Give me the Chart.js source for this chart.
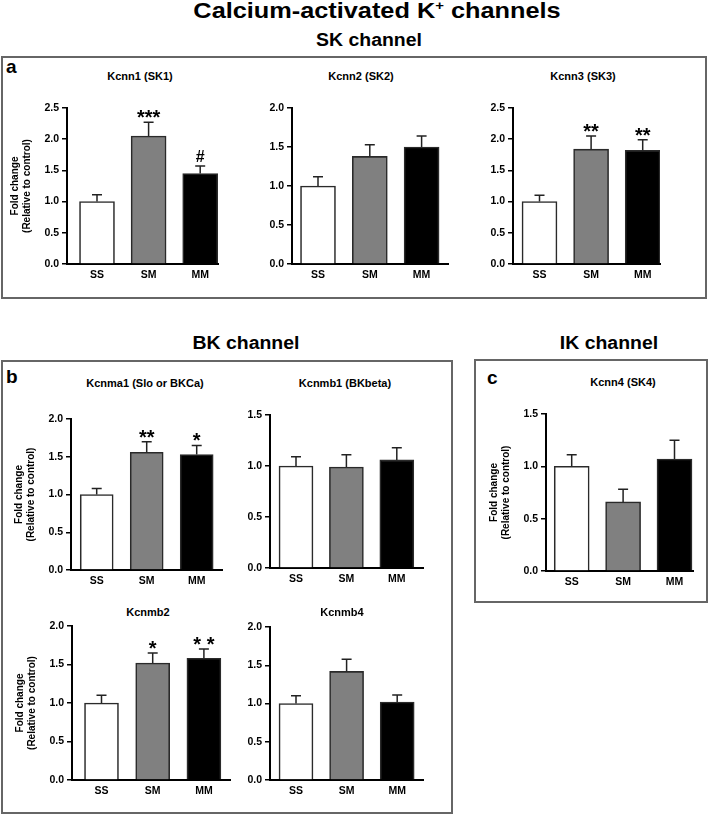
<!DOCTYPE html>
<html><head><meta charset="utf-8">
<script src="https://cdn.jsdelivr.net/npm/chart.js@4.4.1/dist/chart.umd.min.js"></script>
<style>
html,body{margin:0;padding:0;background:#fff;}
body{width:709px;height:815px;position:relative;overflow:hidden;font-family:'Liberation Sans',Arial,sans-serif;color:#000;}
.box{position:absolute;box-sizing:border-box;border:2px solid #666;}
.head{position:absolute;font-weight:bold;text-align:center;white-space:nowrap;line-height:1;transform-origin:50% 50%;}
.ptitle{position:absolute;font-weight:bold;font-size:11px;line-height:11px;text-align:center;width:200px;white-space:nowrap;}
.letter{position:absolute;font-weight:bold;font-size:19px;line-height:19px;}
canvas{position:absolute;}
</style></head><body>
<div class="head" style="left:77px;top:0px;width:600px;font-size:22px;transform:scaleX(1.15)">Calcium-activated K<span style="font-size:13px;position:relative;top:-8px">+</span> channels</div>
<div class="head" style="left:169px;top:31px;width:400px;font-size:18px;transform:scaleX(1.08)">SK channel</div>
<div class="head" style="left:46px;top:334px;width:400px;font-size:18px;transform:scaleX(1.08)">BK channel</div>
<div class="head" style="left:409px;top:334px;width:400px;font-size:18px;transform:scaleX(1.08)">IK channel</div>
<div class="box" style="left:1px;top:56px;width:706px;height:243px"></div>
<div class="box" style="left:1px;top:360px;width:452px;height:454px"></div>
<div class="box" style="left:474px;top:359px;width:234px;height:244px"></div>
<div class="letter" style="left:6px;top:57px">a</div>
<div class="letter" style="left:6px;top:367px">b</div>
<div class="letter" style="left:487px;top:368px">c</div>
<div id="stage"></div>
<script>
// ---------- data ----------
const groups = ['SS', 'SM', 'MM'];
// a: SK channel
const kcnn1Mean = [1.00, 2.05, 1.45];
const kcnn1Sem  = [0.11, 0.22, 0.12];
const kcnn1Sig  = ['', '***', '#'];
const kcnn2Mean = [1.00, 1.38, 1.50];
const kcnn2Sem  = [0.12, 0.15, 0.14];
const kcnn2Sig  = ['', '', ''];
const kcnn3Mean = [1.00, 1.84, 1.82];
const kcnn3Sem  = [0.10, 0.21, 0.17];
const kcnn3Sig  = ['', '**', '**'];
// b: BK channel
const kcnma1Mean = [1.00, 1.56, 1.53];
const kcnma1Sem  = [0.08, 0.14, 0.12];
const kcnma1Sig  = ['', '**', '*'];
const kcnmb1Mean = [1.00, 0.99, 1.06];
const kcnmb1Sem  = [0.09, 0.12, 0.12];
const kcnmb1Sig  = ['', '', ''];
const kcnmb2Mean = [1.00, 1.52, 1.58];
const kcnmb2Sem  = [0.10, 0.13, 0.12];
const kcnmb2Sig  = ['', '*', '* *'];
const kcnmb4Mean = [1.00, 1.42, 1.02];
const kcnmb4Sem  = [0.10, 0.16, 0.09];
const kcnmb4Sig  = ['', '', ''];
// c: IK channel
const kcnn4Mean = [1.00, 0.66, 1.07];
const kcnn4Sem  = [0.11, 0.12, 0.18];
const kcnn4Sig  = ['', '', ''];
// y-axis maxima (ticks every 0.5)
const yAxisMax = {kcnn1: 2.5, kcnn2: 2.0, kcnn3: 2.5, kcnma1: 2.0, kcnmb1: 1.5, kcnmb2: 2.0, kcnmb4: 2.0, kcnn4: 1.5};
const yTitle = ['Fold change', '(Relative to control)'];

// ---------- layout / style ----------
const FONT = "'Liberation Sans', Arial, sans-serif";
const FILLS = ['#ffffff', '#808080', '#000000'];
const EDGE = '#2a2a2a';
const PADL = 62, PADT = 14, PADR = 8, XAXH = 24, CAP = 10, GAP = 4;

const panels = [
  {title: 'Kcnn1 (SK1)', mean: kcnn1Mean, sem: kcnn1Sem, sig: kcnn1Sig, yMax: yAxisMax.kcnn1, showY: true,
   axisX: 67, xEnd: 218, topY: 108, bottomY: 264, c0: 97, step: 51.6, barW: 35, tx: 140, ty: 76},
  {title: 'Kcnn2 (SK2)', mean: kcnn2Mean, sem: kcnn2Sem, sig: kcnn2Sig, yMax: yAxisMax.kcnn2, showY: false,
   axisX: 292, xEnd: 448, topY: 108, bottomY: 264, c0: 318, step: 51.8, barW: 35, tx: 361, ty: 76},
  {title: 'Kcnn3 (SK3)', mean: kcnn3Mean, sem: kcnn3Sem, sig: kcnn3Sig, yMax: yAxisMax.kcnn3, showY: false,
   axisX: 513, xEnd: 660, topY: 108, bottomY: 264, c0: 539.5, step: 51.6, barW: 35, tx: 583, ty: 76},
  {title: 'Kcnma1 (Slo or BKCa)', mean: kcnma1Mean, sem: kcnma1Sem, sig: kcnma1Sig, yMax: yAxisMax.kcnma1, showY: true,
   axisX: 71, xEnd: 222, topY: 419, bottomY: 570, c0: 96.7, step: 50, barW: 33, tx: 145, ty: 383},
  {title: 'Kcnmb1 (BKbeta)', mean: kcnmb1Mean, sem: kcnmb1Sem, sig: kcnmb1Sig, yMax: yAxisMax.kcnmb1, showY: false,
   axisX: 270, xEnd: 423, topY: 415, bottomY: 568, c0: 296, step: 50.4, barW: 34, tx: 345, ty: 383},
  {title: 'Kcnmb2', mean: kcnmb2Mean, sem: kcnmb2Sem, sig: kcnmb2Sig, yMax: yAxisMax.kcnmb2, showY: true,
   axisX: 72, xEnd: 230, topY: 626, bottomY: 780, c0: 101.5, step: 51.2, barW: 34, tx: 148, ty: 612},
  {title: 'Kcnmb4', mean: kcnmb4Mean, sem: kcnmb4Sem, sig: kcnmb4Sig, yMax: yAxisMax.kcnmb4, showY: false,
   axisX: 270, xEnd: 423, topY: 627, bottomY: 780, c0: 296, step: 50.6, barW: 34, tx: 342, ty: 612},
  {title: 'Kcnn4 (SK4)', mean: kcnn4Mean, sem: kcnn4Sem, sig: kcnn4Sig, yMax: yAxisMax.kcnn4, showY: true,
   axisX: 546, xEnd: 693, topY: 414, bottomY: 571, c0: 571.7, step: 51.4, barW: 35, tx: 623, ty: 382}
];

function makeOverlay(p) {
  return {
    id: 'errOverlay',
    afterDatasetsDraw(chart) {
      const ctx = chart.ctx, y = chart.scales.y;
      const meta = chart.getDatasetMeta(0);
      ctx.save();
      meta.data.forEach((bar, i) => {
        const v = p.mean[i], e = p.sem[i];
        const yTop = y.getPixelForValue(v + e), yBar = y.getPixelForValue(v);
        ctx.strokeStyle = '#222';
        ctx.lineWidth = 1.5;
        ctx.beginPath();
        ctx.moveTo(bar.x, yBar);
        ctx.lineTo(bar.x, yTop);
        ctx.moveTo(bar.x - CAP / 2, yTop);
        ctx.lineTo(bar.x + CAP / 2, yTop);
        ctx.stroke();
        const m = p.sig[i];
        if (m) {
          ctx.font = 'bold ' + (m.includes('#') ? 16 : 20) + 'px ' + FONT;
          ctx.textAlign = 'center';
          ctx.textBaseline = 'alphabetic';
          ctx.fillStyle = '#000';
          const mt = ctx.measureText(m);
          ctx.fillText(m, bar.x, yTop - GAP - mt.actualBoundingBoxDescent);
        }
      });
      ctx.restore();
    }
  };
}

const stage = document.getElementById('stage');
panels.forEach(p => {
  const t = document.createElement('div');
  t.className = 'ptitle';
  t.style.left = (p.tx - 100) + 'px';
  t.style.top = (p.ty - 5.4) + 'px';
  t.textContent = p.title;
  stage.appendChild(t);

  const cv = document.createElement('canvas');
  const w = (p.xEnd - p.axisX) + PADL + PADR;
  const h = (p.bottomY - p.topY) + PADT + XAXH;
  cv.width = w; cv.height = h;
  cv.style.width = w + 'px'; cv.style.height = h + 'px';
  cv.style.left = (p.axisX - PADL) + 'px';
  cv.style.top = (p.topY - PADT) + 'px';
  stage.appendChild(cv);

  new Chart(cv, {
    type: 'bar',
    data: {
      datasets: [{
        data: p.mean.map((v, i) => ({x: i, y: v})),
        backgroundColor: FILLS,
        borderColor: EDGE,
        borderWidth: 1.6,
        borderSkipped: 'bottom',
        barThickness: p.barW
      }]
    },
    options: {
      responsive: false, animation: false, devicePixelRatio: 1,
      layout: {padding: {left: 0, top: PADT, right: PADR, bottom: 0}},
      plugins: {legend: {display: false}, tooltip: {enabled: false}, title: {display: false}},
      scales: {
        x: {
          type: 'linear', offset: false,
          min: (p.axisX - p.c0) / p.step, max: (p.xEnd - p.c0) / p.step,
          afterFit(s) { s.height = XAXH; },
          grid: {display: true, drawOnChartArea: false, drawTicks: false, offset: false},
          border: {display: true, color: '#000', width: 2},
          ticks: {stepSize: 1, includeBounds: false, autoSkip: false, maxRotation: 0, padding: 5,
                  color: '#000', font: {family: FONT, size: 10.5, weight: 'bold'},
                  callback: v => (groups[v] !== undefined ? groups[v] : '')}
        },
        y: {
          type: 'linear', min: 0, max: p.yMax,
          afterFit(s) { s.width = PADL; },
          grid: {drawOnChartArea: false, drawTicks: true, tickLength: 5, color: '#000', lineWidth: 1.5},
          border: {display: true, color: '#000', width: 2},
          ticks: {stepSize: 0.5, padding: 3, color: '#000', font: {family: FONT, size: 10.5, weight: 'bold'},
                  callback: v => v.toFixed(1)},
          title: {display: p.showY, text: yTitle, color: '#000',
                  font: {family: FONT, size: 10, weight: 'bold'}, padding: {top: 4, bottom: 0}}
        }
      }
    },
    plugins: [makeOverlay(p)]
  });
});
</script>
</body></html>
